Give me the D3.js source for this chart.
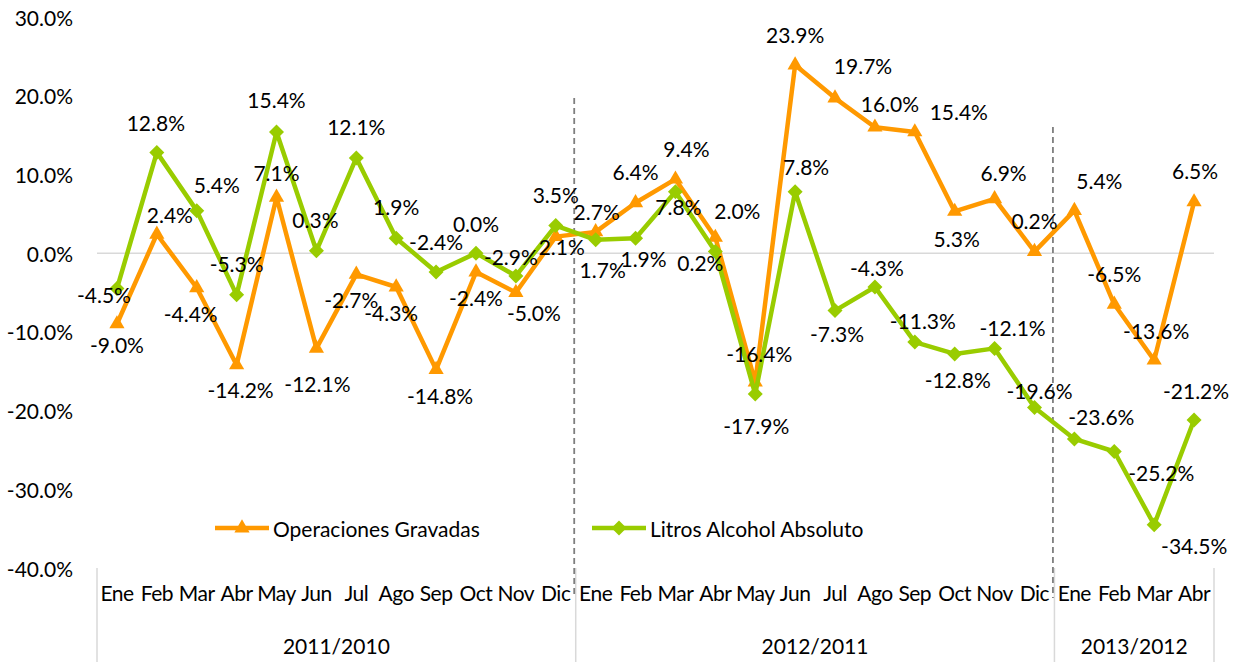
<!DOCTYPE html>
<html>
<head>
<meta charset="utf-8">
<script src="https://cdn.jsdelivr.net/npm/d3@7"></script>
<style>
  body { margin: 0; background: #fff; }
  svg text { font-family: Lato, "Open Sans", sans-serif; fill: #000; }
</style>
</head>
<body>
<svg class="chart" width="1239" height="662"></svg>
<script>
var months = ["Ene","Feb","Mar","Abr","May","Jun","Jul","Ago","Sep","Oct","Nov","Dic",
              "Ene","Feb","Mar","Abr","May","Jun","Jul","Ago","Sep","Oct","Nov","Dic",
              "Ene","Feb","Mar","Abr"];
var periods = ["2011/2010","2012/2011","2013/2012"];
var periodLength = [12, 12, 4];
var yTicks = [30, 20, 10, 0, -10, -20, -30, -40];

var seriesNames = ["Operaciones Gravadas", "Litros Alcohol Absoluto"];
var operaciones = [-9.0, 2.4, -4.4, -14.2, 7.1, -12.1, -2.7, -4.3, -14.8, -2.4, -5.0, 2.1,
                   2.7, 6.4, 9.4, 2.0, -16.4, 23.9, 19.7, 16.0, 15.4, 5.3, 6.9, 0.2,
                   5.4, -6.5, -13.6, 6.5];
var litros = [-4.5, 12.8, 5.4, -5.3, 15.4, 0.3, 12.1, 1.9, -2.4, 0.0, -2.9, 3.5,
              1.7, 1.9, 7.8, 0.2, -17.9, 7.8, -7.3, -4.3, -11.3, -12.8, -12.1, -19.6,
              -23.6, -25.2, -34.5, -21.2];

// where each value label sits relative to its point (px)
var opLabelOff = [[0,21],[13,-20],[-6,26],[4,25],[0,-25],[1,35],[-5,25],[-5,26],[4,26],[0,25],[18,20],[6,10],
                  [1,-20],[0,-31],[11,-31],[22,-27],[4,-29],[0,-31],[28,-33],[15,-24],[44,-20],[2,27],[9,-26],[0,-31],
                  [25,-30],[0,-31],[2,-30],[1,-31]];
var liLabelOff = [[-13,6],[-1,-30],[20,-26],[0,-31],[0,-32],[-1,-31],[0,-31],[0,-32],[0,-31],[0,-30],[-5,-19],[0,-31],
                  [7,30],[8,20],[3,15],[-15,11],[1,31],[11,-25],[2,23],[2,-19],[8,-22],[3,26],[18,-21],[5,-17],
                  [27,-22],[47,21],[40,21],[2,-30]];

var orange = "#FF9900", green = "#99CC00";

var svg = d3.select("svg.chart");
var plotLeft = 97, plotRight = 1214, plotTop = 17, plotBottom = 568;

var x = d3.scaleBand().domain(d3.range(months.length)).range([plotLeft, plotRight]);
var y = d3.scaleLinear().domain([-40, 30]).range([plotBottom, plotTop]);
var cx = function(i) { return x(i) + x.bandwidth() / 2; };
var pct = function(d) { return d.toFixed(1) + "%"; };

// y axis labels
svg.append("g")
  .selectAll("text")
  .data(yTicks)
  .enter().append("text")
  .attr("x", 73)
  .attr("y", function(d) { return y(d); })
  .attr("text-anchor", "end")
  .attr("dominant-baseline", "central")
  .style("font-size", "21px")
  .text(pct);

// zero line
svg.append("line")
  .attr("x1", plotLeft).attr("x2", plotRight)
  .attr("y1", y(0)).attr("y2", y(0))
  .attr("stroke", "#D9D9D9").attr("stroke-width", 1.5);

// category axis: month labels, period labels, separators
var starts = [0];
periodLength.forEach(function(n, k) { starts.push(starts[k] + n); });
var edge = function(i) { return i < months.length ? x(i) : plotRight; };

svg.append("g")
  .selectAll("line")
  .data(starts)
  .enter().append("line")
  .attr("x1", edge)
  .attr("x2", edge)
  .attr("y1", plotBottom).attr("y2", 662)
  .attr("stroke", "#D9D9D9").attr("stroke-width", 1.5);

svg.append("g")
  .selectAll("text")
  .data(months)
  .enter().append("text")
  .attr("x", function(d, i) { return cx(i); })
  .attr("y", 601)
  .attr("text-anchor", "middle")
  .style("font-size", "21px")
  .style("letter-spacing", "-0.5px")
  .text(function(d) { return d; });

svg.append("g")
  .selectAll("text")
  .data(periods)
  .enter().append("text")
  .attr("x", function(d, k) { return (edge(starts[k]) + edge(starts[k + 1])) / 2; })
  .attr("y", 654)
  .attr("text-anchor", "middle")
  .style("font-size", "21px")
  .text(function(d) { return d; });

// dashed dividers between periods
svg.append("g")
  .selectAll("line")
  .data([{i: 12, from: 98}, {i: 24, from: 127}])
  .enter().append("line")
  .attr("x1", function(d) { return x(d.i) - 1.5; })
  .attr("x2", function(d) { return x(d.i) - 1.5; })
  .attr("y1", function(d) { return d.from; })
  .attr("y2", 598)
  .attr("stroke", "#7F7F7F")
  .attr("stroke-width", 1.8)
  .attr("stroke-dasharray", "6,4");

// markers
var triangle = d3.symbol().type(d3.symbolTriangle).size(100);
function diamond(r) {
  return "M0," + (-r) + "L" + r + ",0L0," + r + "L" + (-r) + ",0Z";
}

var line = d3.line()
  .x(function(d, i) { return cx(i); })
  .y(function(d) { return y(d); });

function drawSeries(values, color, shape) {
  var g = svg.append("g");
  g.append("path")
    .datum(values)
    .attr("d", line)
    .attr("fill", "none")
    .attr("stroke", color)
    .attr("stroke-width", 4.5)
    .attr("stroke-linejoin", "round");
  g.selectAll("path.mark")
    .data(values)
    .enter().append("path")
    .attr("class", "mark")
    .attr("transform", function(d, i) { return "translate(" + cx(i) + "," + y(d) + ")"; })
    .attr("d", shape)
    .attr("fill", color);
}

drawSeries(operaciones, orange, triangle());
drawSeries(litros, green, diamond(7.5));

// value labels
function drawLabels(values, off) {
  svg.append("g")
    .selectAll("text")
    .data(values)
    .enter().append("text")
    .attr("x", function(d, i) { return cx(i) + off[i][0]; })
    .attr("y", function(d, i) { return y(d) + off[i][1]; })
    .attr("text-anchor", "middle")
    .attr("dominant-baseline", "central")
    .style("font-size", "21px")
    .text(pct);
}
drawLabels(operaciones, opLabelOff);
drawLabels(litros, liLabelOff);

// legend
var legend = svg.append("g")
  .selectAll("g")
  .data([{name: seriesNames[0], color: orange, shape: triangle(), x: 215},
         {name: seriesNames[1], color: green, shape: diamond(7.5), x: 592}])
  .enter().append("g")
  .attr("transform", function(d) { return "translate(" + d.x + ",528)"; });
legend.append("line")
  .attr("x1", 0).attr("x2", 54)
  .attr("stroke", function(d) { return d.color; })
  .attr("stroke-width", 4.5);
legend.append("path")
  .attr("transform", "translate(27,0)")
  .attr("d", function(d) { return d.shape; })
  .attr("fill", function(d) { return d.color; });
legend.append("text")
  .attr("x", 58)
  .attr("dominant-baseline", "central")
  .style("font-size", "21px")
  .text(function(d) { return d.name; });
</script>
</body>
</html>
